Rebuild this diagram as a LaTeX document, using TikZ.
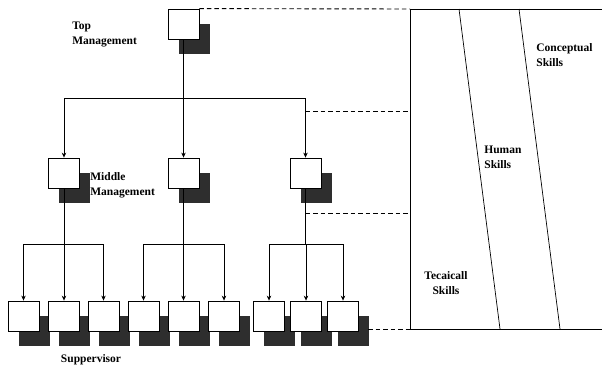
\documentclass[tikz,border=0pt]{standalone}
\usepackage{fontspec}
\setmainfont{Liberation Serif}
\usepackage{tikz}
\usetikzlibrary{calc,shadows,arrows.meta}

\tikzset{
  unit/.style={draw, fill=white, line width=0.8pt, minimum width=31pt, minimum height=30pt, inner sep=0pt,
    general shadow={fill=black!82, shadow xshift=10.5pt, shadow yshift=-14.5pt}},
  lbl/.style={font=\bfseries\fontsize{11.5}{15}\selectfont, inner sep=0pt},
  arr/.style={-{Stealth[length=5pt,width=4.5pt]}},
  dsh/.style={dash pattern=on 4.5pt off 3pt, line width=0.9pt}
}

\begin{document}
\begin{tikzpicture}[x=1pt, y=-1pt, line width=0.7pt]
  \useasboundingbox (0,0) rectangle (602,367);
  % boxes
  \node[unit] (top) at (183.5,24) {};
  \node[unit] (m1) at (64,173) {};
  \node[unit] (m2) at (183.5,173) {};
  \node[unit] (m3) at (305.5,173) {};
  \foreach \i/\x in {1/23.5,2/64,3/103.5,4/143.5,5/183.5,6/224,7/269,8/306,9/343}
    \node[unit] (s\i) at (\x,316) {};

  % tree
  \coordinate (bus) at (183.5,98);
  \draw (top.south) -- (bus);
  \draw (bus -| m1) -- (bus -| m3);
  \draw[arr] (bus -| m1) -- (m1);
  \draw[arr] (bus) -- (m2);
  \draw[arr] (bus -| m3) -- (m3);
  \coordinate (b1) at (64,244);
  \coordinate (b2) at (183.5,244);
  \coordinate (b3) at (305.5,244);
  \draw (m1.south) -- (b1);
  \draw (m2.south) -- (b2);
  \draw (m3.south) -- (b3);
  \draw (b1 -| s1) -- (b1 -| s3);
  \draw (b2 -| s4) -- (b2 -| s6);
  \draw (b3 -| s7) -- (b3 -| s9);
  \foreach \i in {1,2,3} \draw[arr] (b1 -| s\i) -- (s\i);
  \foreach \i in {4,5,6} \draw[arr] (b2 -| s\i) -- (s\i);
  \foreach \i in {7,8,9} \draw[arr] (b3 -| s\i) -- (s\i);

  % skills frame
  \coordinate (ftl) at (410,9);
  \coordinate (fbl) at (410,329);
  \draw (602,9) -- (ftl) -- (fbl) -- (602,329);
  \draw (459,9) -- (500,329);
  \draw (519,9) -- (560,329);

  % dashed levels
  \draw[dsh] (top.north east) -- (ftl);
  \draw[dsh] (305.5,111) -- (410,111);
  \draw[dsh] (305.5,213) -- (410,213);
  \draw[dsh] (368,329) -- (fbl);

  % labels
  \node[lbl, anchor=west, align=left] (ltop) at (72,34.5) {Top\\Management};
  \node[lbl, anchor=west, align=left] (lmid) at (90,185) {Middle\\Management};
  \node[lbl] (lsup) at (91,360) {Suppervisor};
  \node[lbl, anchor=west, align=left] (lcon) at (536,55) {Conceptual\\Skills};
  \node[lbl, anchor=west, align=left] (lhum) at (484,157) {Human\\Skills};
  \node[lbl, align=center] (ltec) at (446,283) {Tecaicall\\Skills};
\end{tikzpicture}
\end{document}
